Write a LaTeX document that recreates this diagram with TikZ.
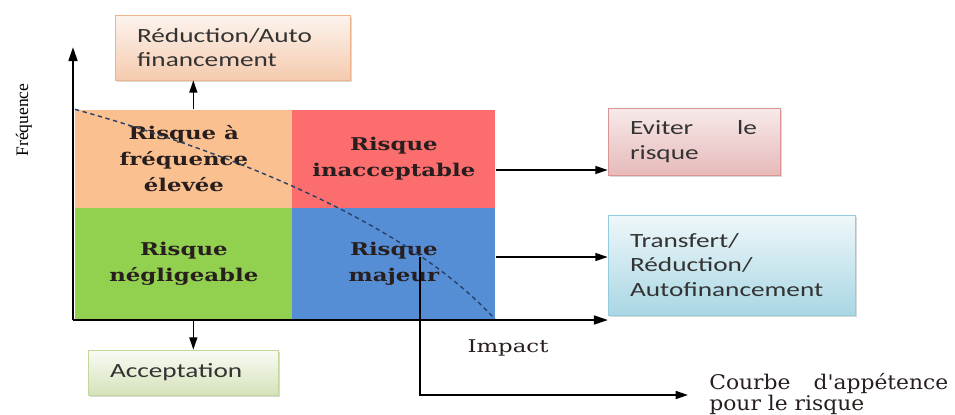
\documentclass[tikz,border=0pt]{standalone}
\usepackage{fontspec}
\usetikzlibrary{positioning,arrows.meta,shadows}
\setmainfont{Liberation Serif}
\newfontfamily\cellfont{DejaVu Serif}[FakeStretch=1.3]
\newfontfamily\curvefont{DejaVu Serif}[FakeStretch=1.08]
\newfontfamily\boxfont{Carlito}[FakeStretch=1.35]
\definecolor{Peach}{RGB}{250,192,144}
\definecolor{Coral}{RGB}{252,110,110}
\definecolor{Leaf}{RGB}{146,208,80}
\definecolor{Sky}{RGB}{85,142,213}
\definecolor{Ink}{RGB}{40,30,30}
\definecolor{Dash}{RGB}{40,65,100}
\definecolor{Tan}{RGB}{240,180,140}
\definecolor{Olive}{RGB}{195,214,155}
\definecolor{Rose}{RGB}{217,149,148}
\definecolor{Aqua}{RGB}{147,205,221}

\begin{document}
\begin{tikzpicture}[x=.02cm,y=.02cm,
 c/.style={inner sep=0,anchor=south west,align=center,text=Ink,font=\cellfont\bfseries\fontsize{10}{15}\selectfont},
 b/.style={draw=#1,align=left,inner xsep=.44cm,inner ysep=0,drop shadow={opacity=.3,shadow xshift=1.2pt,shadow yshift=-1.2pt},font=\boxfont\fontsize{11.5}{13.9}\selectfont,text=black!80},
 a/.style={-{Triangle[length=7pt,width=4.5pt]},line width=.9pt},
 ax/.style={-{Triangle[length=8pt,width=5pt]},line width=1.3pt}]
\useasboundingbox (0,0) rectangle (955,414);
% matrice des risques
\node[c,fill=Peach,minimum width=4.34cm,minimum height=1.96cm] (haut) at (75,206) {Risque à\\fréquence\\élevée};
\node[c,fill=Coral,minimum width=4.06cm,minimum height=1.96cm] (rouge) at (292,206) {Risque\\inacceptable};
\node[c,fill=Leaf,minimum width=4.34cm,minimum height=2.24cm] (vert) at (75,94) {Risque\\négligeable};
\node[c,fill=Sky,minimum width=4.06cm,minimum height=2.24cm] (bleu) at (292,94) {Risque\\majeur};
\draw[Dash,dash pattern=on 2.5pt off 2pt,line width=.8pt] (haut.north west) .. controls (200,270) and (400,200) .. (bleu.south east);
% axes
\coordinate (O) at (73,94);
\draw[ax] (O) -- (73,367);
\draw[ax] (O) -- (608,94);
\node[rotate=90,font=\fontsize{10}{12}\selectfont] (freq) at (24,294) {Fréquence};
\node[font=\cellfont\fontsize{10}{12}\selectfont,text=Ink] (impact) at (508,66) {Impact};
% traitements
\node[b=Tan,top color=Tan!15,bottom color=Tan!70,text width=3.82cm,minimum height=1.3cm] (reduc) at (232.5,366.5) {Réduction/Auto\\financement};
\node[b=Olive,top color=Olive!10,bottom color=Olive!70,text width=2.92cm,minimum height=.9cm] (accept) at (183,41.5) {Acceptation};
\node[b=Rose,top color=Rose!20,bottom color=Rose!65,text width=2.56cm,minimum height=1.34cm] (evit) at (694,272.5) {\makebox[2.54cm][s]{Eviter\hfill le}\\risque};
\node[b=Aqua,top color=Aqua!15,bottom color=Aqua!80,text width=4.06cm,minimum height=2cm] (transf) at (731.5,149) {Transfert/\\Réduction/\\Autofinancement};
\node[font=\curvefont\fontsize{11.5}{9.4}\selectfont,text=Ink,align=left,anchor=north west,inner sep=0] (courbe) at (709,41.5) {\makebox[4.78cm][s]{Courbe\hfill d'appétence}\\pour le risque};
\draw[a] ([xshift=.19cm]haut.north) -- ([xshift=.19cm]haut.north |- reduc.south);
\draw[a] ([xshift=.19cm]vert.south) -- ([xshift=.19cm]vert.south |- accept.north);
\draw[a] ([yshift=-.57cm]evit.west -| rouge.east) -- ([yshift=-.57cm]evit.west);
\draw[a] ([yshift=.16cm]transf.west -| bleu.east) -- ([yshift=.16cm]transf.west);
\draw[a,line width=1.1pt] ([xshift=.53cm,yshift=.14cm]bleu.center) |- ([xshift=-.42cm,yshift=-.45cm]courbe.north west);
\end{tikzpicture}
\end{document}
